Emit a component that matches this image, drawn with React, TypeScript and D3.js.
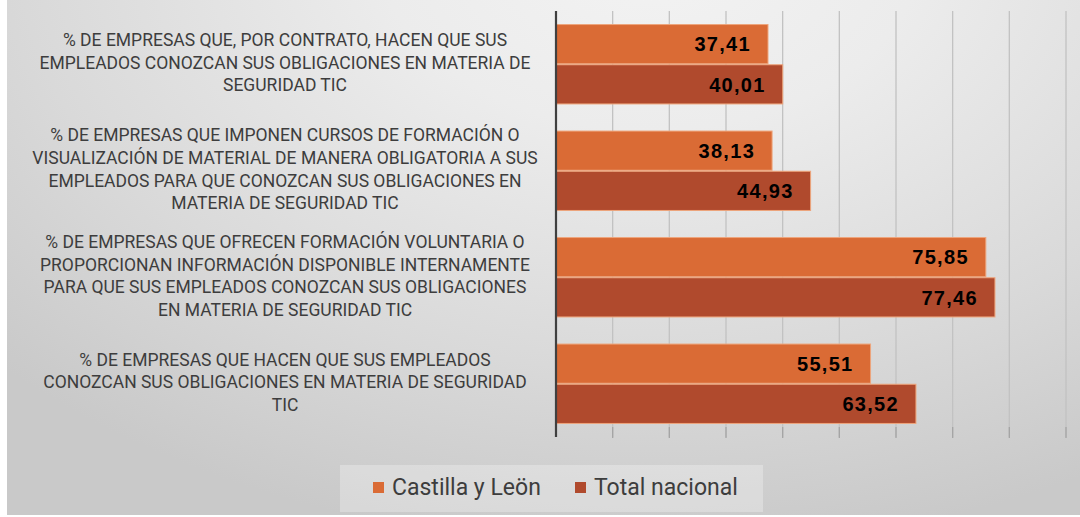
import React from "react";
import * as d3 from "d3";

const categories: string[][] = [
  ["% DE EMPRESAS QUE, POR CONTRATO, HACEN QUE SUS", "EMPLEADOS CONOZCAN SUS OBLIGACIONES EN MATERIA DE", "SEGURIDAD TIC"],
  ["% DE EMPRESAS QUE IMPONEN CURSOS DE FORMACIÓN O", "VISUALIZACIÓN DE MATERIAL DE MANERA OBLIGATORIA A SUS", "EMPLEADOS PARA QUE CONOZCAN SUS OBLIGACIONES EN", "MATERIA DE SEGURIDAD TIC"],
  ["% DE EMPRESAS QUE OFRECEN FORMACIÓN VOLUNTARIA O", "PROPORCIONAN INFORMACIÓN DISPONIBLE INTERNAMENTE", "PARA QUE SUS EMPLEADOS CONOZCAN SUS OBLIGACIONES", "EN MATERIA DE SEGURIDAD TIC"],
  ["% DE EMPRESAS QUE HACEN QUE SUS EMPLEADOS", "CONOZCAN SUS OBLIGACIONES EN MATERIA DE SEGURIDAD", "TIC"],
];
const seriesNames = ["Castilla y Leön", "Total nacional"];
const castilla = [37.41, 38.13, 75.85, 55.51];
const total = [40.01, 44.93, 77.46, 63.52];
const gridTicks = [0, 10, 20, 30, 40, 50, 60, 70, 80, 90];
const colors = ["#DA6B35", "#B04A2D"];

const W = 1080;
const H = 517;
const plot = { left: 556, right: 1066, top: 11, bottom: 437 };

export default function App() {
  const x = d3.scaleLinear().domain([0, 90]).range([plot.left, plot.right]);
  const idx = categories.map((_, i) => String(i));
  const y = d3.scaleBand().domain(idx).range([plot.top, plot.bottom]).paddingInner(0.245).paddingOuter(0.1225);
  const inner = d3.scaleBand().domain(["0", "1"]).range([0, y.bandwidth()]);
  const series = [castilla, total];
  const fmt = (v: number) => v.toFixed(2).replace(".", ",");
  const labelFont = "Roboto, 'Liberation Sans', sans-serif";
  const lineH = 22.6;

  return (
    <div style={{ position: "fixed", left: 0, top: 0, width: W, height: H, background: "#fff" }}>
      <svg width={W} height={H} style={{ display: "block" }}>
        <defs>
          <radialGradient id="bg" gradientUnits="userSpaceOnUse" cx={650} cy={-50} r={900}
            gradientTransform="translate(650,-50) scale(1,0.667) translate(-650,50)">
            <stop offset="0" stopColor="#f3f3f3" />
            <stop offset="0.3" stopColor="#ececec" />
            <stop offset="0.7" stopColor="#d9d9d9" />
            <stop offset="1" stopColor="#c9c9c9" />
          </radialGradient>
        </defs>
        <rect x={7} y={0} width={W - 7} height={515} fill="url(#bg)" />

        {/* gridlines */}
        {gridTicks.slice(1).map((t) => (
          <g key={t}>
            <line x1={x(t)} x2={x(t)} y1={plot.top} y2={plot.bottom} stroke="#c2c2c2" strokeWidth={1.3} />
            <line x1={x(t)} x2={x(t)} y1={427} y2={438} stroke="#a5a5a5" strokeWidth={1.3} />
          </g>
        ))}

        {/* bars */}
        {categories.map((_, i) =>
          series.map((s, j) => {
            const by = (y(String(i)) as number) + (inner(String(j)) as number);
            const bh = inner.bandwidth();
            const xe = x(s[i]);
            return (
              <g key={`${i}-${j}`}>
                <rect x={x(0)} y={by + 0.5} width={xe - x(0)} height={bh - 1} fill={colors[j]} stroke="#eea57c" strokeWidth={1} />
                <text x={xe - 17} y={by + bh / 2} dy="0.36em" textAnchor="end" letterSpacing={1.3}
                  fontFamily="'Liberation Sans', Arial, sans-serif" fontWeight="bold" fontSize={20} fill="#000">
                  {fmt(s[i])}
                </text>
              </g>
            );
          })
        )}

        {/* axis line */}
        <line x1={plot.left} x2={plot.left} y1={plot.top} y2={plot.bottom} stroke="#404040" strokeWidth={2.2} />

        {/* category labels */}
        {categories.map((lines, i) => {
          const cy = (y(String(i)) as number) + y.bandwidth() / 2 - 1.5;
          const y0 = cy - ((lines.length - 1) * lineH) / 2;
          return (
            <text key={i} textAnchor="middle" fontFamily={labelFont} fontSize={17.5} fill="#3d3d3d">
              {lines.map((l, k) => (
                <tspan key={k} x={285} y={y0 + k * lineH} dy="0.35em">{l}</tspan>
              ))}
            </text>
          );
        })}

        {/* legend */}
        <rect x={340} y={465} width={423} height={47} fill="#ffffff" fillOpacity={0.28} />
        {seriesNames.map((n, j) => {
          const lx = [373, 575][j];
          return (
            <g key={n}>
              <rect x={lx} y={482} width={11} height={11} fill={colors[j]} />
              <text x={lx + 19} y={487} dy="0.36em" fontFamily={labelFont} fontSize={23} fill="#3d3d3d">{n}</text>
            </g>
          );
        })}
      </svg>
    </div>
  );
}
